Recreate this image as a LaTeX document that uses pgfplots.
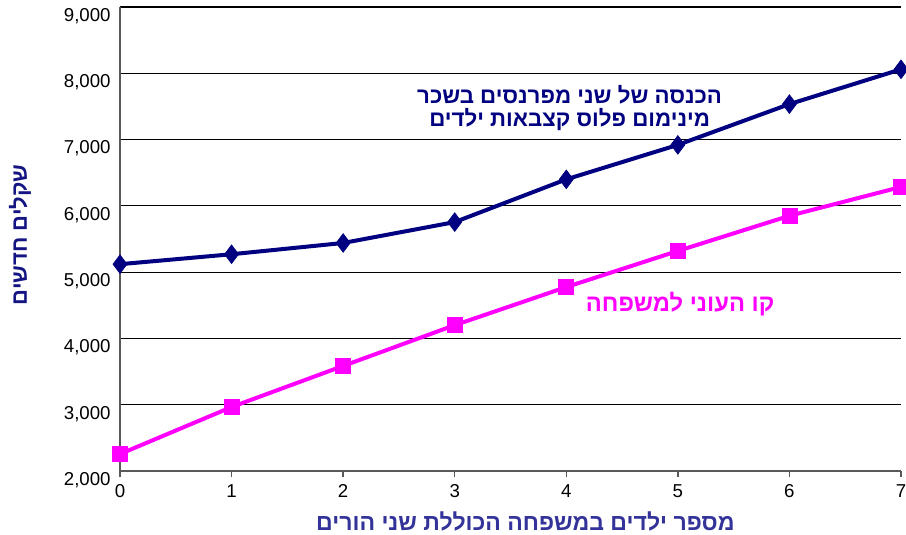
\documentclass[border=0pt]{standalone}
\usepackage{fontspec}
\setmainfont{Liberation Sans}
\newfontfamily\hebfont[Script=Hebrew]{Liberation Sans}
\TeXXeTstate=1
\usepackage{pgfplots}
\pgfplotsset{compat=1.18}
\definecolor{navyc}{RGB}{0,0,128}
\definecolor{magc}{RGB}{255,0,255}
\definecolor{xlab}{RGB}{51,51,153}
\definecolor{ylab}{RGB}{20,20,130}
\begin{document}
\begin{tikzpicture}
\useasboundingbox (-90pt,-48pt) rectangle (589.5pt,353.25pt);
\begin{axis}[
  scale only axis,
  width=585.75pt, height=348pt,
  xmin=0, xmax=7, ymin=2000, ymax=9000,
  xtick={0,1,2,3,4,5,6,7},
  ytick={2000,3000,4000,5000,6000,7000,8000,9000},
  axis x line*=bottom, axis y line*=left,
  axis line style={-, draw=black!65, line width=1.5pt},
  xtick pos=left, ytick pos=left,
  tick align=outside, major tick length=4.5pt,
  tick style={draw=black!65, line width=1pt},
  ytick style={draw=none},
  ymajorgrids,
  grid style={draw=black, line width=0.8pt},
  /pgf/number format/assume math mode=true,
  /pgf/number format/1000 sep={,},
  /pgf/number format/fixed,
  tick label style={font=\fontsize{14}{16}\selectfont},
  yticklabel style={yshift=-6.75pt, xshift=1pt},
  xticklabel style={yshift=-2pt},
  every axis y label/.style={at={(axis description cs:0,0.509)}, xshift=-75pt, rotate=90, anchor=center},
  every axis x label/.style={at={(axis description cs:0.519,0)}, yshift=-38pt, anchor=center},
  ylabel={\hebfont\bfseries\fontsize{16.5}{19}\selectfont\color{ylab}\beginR שקלים חדשים\endR},
  xlabel={\hebfont\bfseries\fontsize{17.3}{19}\selectfont\color{xlab}\beginR מספר ילדים במשפחה הכוללת שני הורים\endR},
  clip=false,
]
\addplot[color=navyc, line width=3pt, mark=diamond*, mark size=7pt, mark options={fill=navyc, draw=navyc, line width=0.5pt}]
coordinates {(0,5120) (1,5270) (2,5440) (3,5755) (4,6400) (5,6920) (6,7535) (7,8060)};
\addplot[color=magc, line width=3pt, mark=square*, mark size=5.6pt, mark options={fill=magc, draw=magc, line width=0.5pt}]
coordinates {(0,2256) (1,2965) (2,3585) (3,4200) (4,4775) (5,5320) (6,5850) (7,6285)};
\node[align=center, text=navyc, font=\hebfont\bfseries\fontsize{16.7}{17.5}\selectfont] at (axis cs:4.03,7475)
  {\beginR הכנסה של שני מפרנסים בשכר\endR\\\beginR מינימום פלוס קצבאות ילדים\endR};
\node[text=magc, font=\hebfont\bfseries\fontsize{17.8}{19}\selectfont] at (axis cs:5.02,4520)
  {\beginR קו העוני למשפחה\endR};
\end{axis}
\end{tikzpicture}
\end{document}
